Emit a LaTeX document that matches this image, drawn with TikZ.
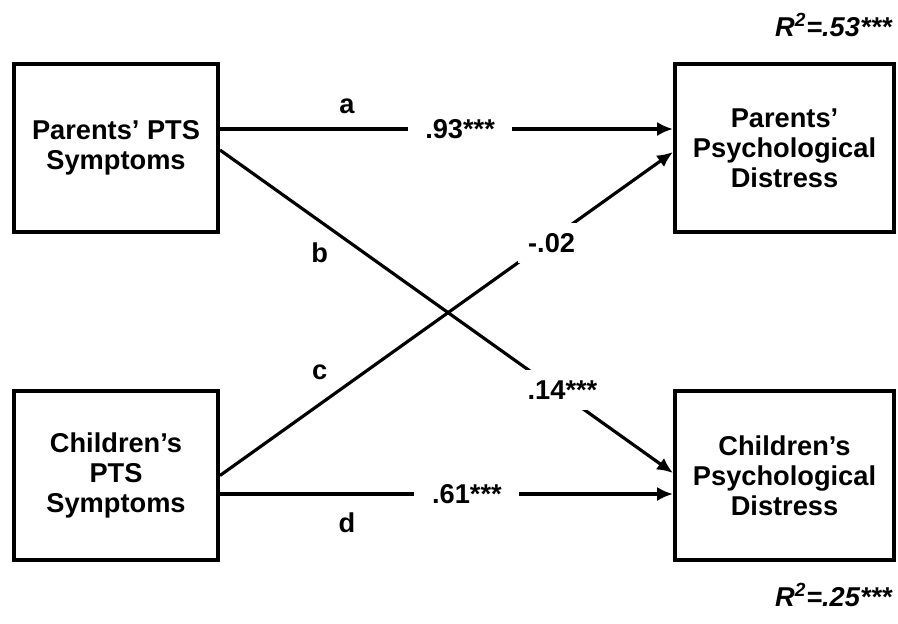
\documentclass[tikz,border=0pt]{standalone}
\usepackage{fontspec}
\setmainfont{Liberation Sans}
\usetikzlibrary{arrows.meta}

\begin{document}
\begin{tikzpicture}[x=0.02cm, y=-0.02cm,
    var/.style={draw, line width=2.3pt, align=center, minimum height=3.37cm,
        font=\bfseries\fontsize{15.5}{17}\selectfont},
    effect/.style={line width=1.8pt, -{Latex[length=9pt,width=8pt]}},
    lbl/.style={font=\bfseries\fontsize{15.5}{17}\selectfont},
    coef/.style={lbl, fill=white, inner sep=6pt}]

    % Fix the size of the page
    \useasboundingbox (0,0) rectangle (898,623);

    % The four variables
    \node[var, minimum width=4.08cm] (pp) at (116,148) {Parents’ PTS\\Symptoms};
    \node[var, minimum width=4.08cm] (cp) at (116,475.5) {Children’s\\PTS\\Symptoms};
    \node[var, minimum width=4.38cm] (pd) at (784.5,148) {Parents’\\Psychological\\Distress};
    \node[var, minimum width=4.38cm] (cd) at (784.5,475.5) {Children’s\\Psychological\\Distress};

    % Paths a and d (straight across)
    \draw[effect] ([yshift=0.38cm]pp.east) --
        node[lbl, pos=0.28, yshift=0.46cm] (la) {a}
        node[coef, inner xsep=10pt, pos=0.53] (ca) {.93***}
        ([yshift=0.38cm]pd.west);
    \draw[effect] ([yshift=-0.37cm]cp.east) --
        node[lbl, pos=0.28, yshift=-0.58cm] (ld) {d}
        node[coef, inner xsep=10pt, pos=0.545] (cd2) {.61***}
        ([yshift=-0.37cm]cd.west);

    % Paths b and c (crossing over)
    \draw[effect] ([yshift=-0.04cm]pp.east) --
        node[lbl, pos=0.22, yshift=-0.64cm] (lb) {b}
        node[coef, pos=0.756, yshift=0.08cm] (cb) {.14***}
        ([yshift=0.05cm]cd.west);
    \draw[effect] (cp.east) --
        node[lbl, pos=0.22, yshift=0.64cm] (lc) {c}
        node[coef, pos=0.732, yshift=-0.09cm] (cc) {-.02}
        ([yshift=-0.08cm]pd.west);

    % Explained variance
    \node[lbl, anchor=east] (r1) at (898,25) {\itshape R\textsuperscript{2}=.53***};
    \node[lbl, anchor=east] (r2) at (898,595) {\itshape R\textsuperscript{2}=.25***};
\end{tikzpicture}
\end{document}
